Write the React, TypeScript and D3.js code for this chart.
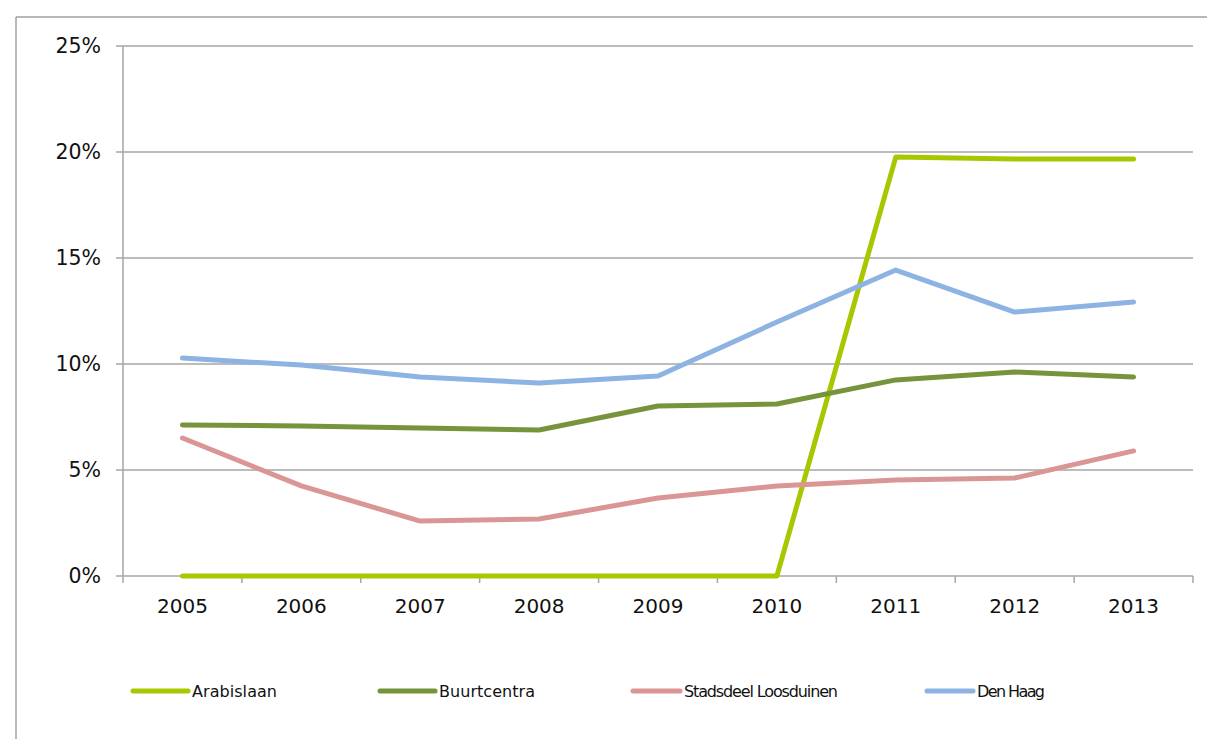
import React from "react";
import * as d3 from "d3";

const years = ["2005", "2006", "2007", "2008", "2009", "2010", "2011", "2012", "2013"];
const arabislaan = [0, 0, 0, 0, 0, 0, 19.76, 19.67, 19.67];
const buurtcentra = [7.12, 7.08, 6.98, 6.89, 8.02, 8.11, 9.25, 9.62, 9.39];
const loosduinen = [6.51, 4.25, 2.59, 2.69, 3.68, 4.25, 4.53, 4.62, 5.9];
const denHaag = [10.28, 9.95, 9.39, 9.1, 9.43, 11.98, 14.43, 12.45, 12.92];
const yTicks = [0, 5, 10, 15, 20, 25];

const series = [
  { name: "Arabislaan", values: arabislaan, color: "#a9c700" },
  { name: "Buurtcentra", values: buurtcentra, color: "#77933c" },
  { name: "Stadsdeel Loosduinen", values: loosduinen, color: "#d99694" },
  { name: "Den Haag", values: denHaag, color: "#8db3e2" },
];
const legendX = [133, 380, 633, 927];
const legendLen = [55, 55, 47, 46];
const legendTextW = [85, 96, 154, 68];

export default function App() {
  const W = 1207, H = 739;
  const left = 123, right = 1193, top = 46, bottom = 576;
  const x = d3.scaleBand().domain(years).range([left, right]);
  const y = d3.scaleLinear().domain([0, 25]).range([bottom, top]);
  const line = d3
    .line<number>()
    .x((_, i) => (x(years[i]) as number) + x.bandwidth() / 2)
    .y((d) => y(d));
  const font = "'DejaVu Sans', Verdana, sans-serif";
  const grid = "#a6a6a6";
  const tickXs = years.map((yr) => x(yr) as number).concat([right]);
  return (
    <svg width={W} height={H} style={{ position: "absolute", left: 0, top: 0 }}>
      <rect x={0} y={0} width={W} height={H} fill="#fff" />
      <line x1={16} y1={17} x2={W} y2={17} stroke="#a0a0a0" strokeWidth={1.5} />
      <line x1={16} y1={17} x2={16} y2={H} stroke="#a0a0a0" strokeWidth={1.5} />
      {yTicks.map((t) => (
        <g key={t}>
          <line x1={116} x2={right} y1={y(t)} y2={y(t)} stroke={grid} strokeWidth={1.5} />
          <text x={101} y={y(t)} dy="0.36em" textAnchor="end" fontFamily={font} fontSize={20.5} fill="#111">
            {t}%
          </text>
        </g>
      ))}
      <line x1={left} x2={left} y1={top} y2={bottom} stroke={grid} strokeWidth={1.5} />
      {tickXs.map((tx, i) => (
        <line key={i} x1={tx} x2={tx} y1={bottom} y2={bottom + 7} stroke={grid} strokeWidth={1.5} />
      ))}
      {years.map((yr) => (
        <text key={yr} x={(x(yr) as number) + x.bandwidth() / 2} y={613} textAnchor="middle" fontFamily={font} fontSize={20} fill="#111">
          {yr}
        </text>
      ))}
      {series.map((s) => (
        <path key={s.name} d={line(s.values) || ""} fill="none" stroke={s.color} strokeWidth={5} strokeLinejoin="round" strokeLinecap="round" />
      ))}
      {series.map((s, i) => (
        <g key={s.name}>
          <line x1={legendX[i]} x2={legendX[i] + legendLen[i]} y1={691} y2={691} stroke={s.color} strokeWidth={5} strokeLinecap="round" />
          <text
            x={legendX[i] + legendLen[i] + 4}
            y={697}
            fontFamily={font}
            fontSize={16}
            fill="#111"
            textLength={legendTextW[i]}
            lengthAdjust="spacing"
          >
            {s.name}
          </text>
        </g>
      ))}
    </svg>
  );
}
